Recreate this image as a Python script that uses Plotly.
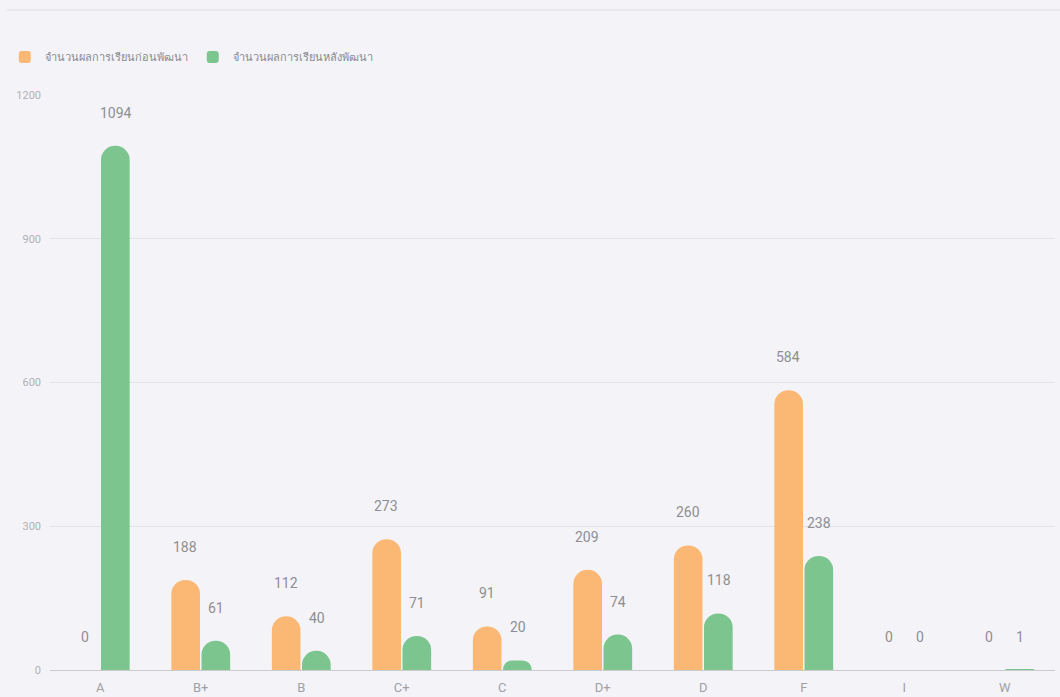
import plotly.graph_objects as go

categories = ["A", "B+", "B", "C+", "C", "D+", "D", "F", "I", "W"]
before_name = "จำนวนผลการเรียนก่อนพัฒนา"
after_name = "จำนวนผลการเรียนหลังพัฒนา"
before_values = [0, 188, 112, 273, 91, 209, 260, 584, 0, 0]
after_values = [1094, 61, 40, 71, 20, 74, 118, 238, 0, 1]
y_ticks = [0, 300, 600, 900, 1200]

ORANGE = "#FBB875"
GREEN = "#7CC58E"
BG = "#F4F4F8"
FONT = "Liberation Sans Narrow, Roboto, Noto Sans, sans-serif"

fig = go.Figure()
fig.add_trace(go.Bar(x=categories, y=before_values, name=before_name,
                     marker=dict(color=ORANGE, cornerradius="50%", line=dict(width=0))))
fig.add_trace(go.Bar(x=categories, y=after_values, name=after_name,
                     marker=dict(color=GREEN, cornerradius="50%", line=dict(width=0))))

annotations = []
for vals, shift in ((before_values, -15.5), (after_values, 15.5)):
    for c, v in zip(categories, vals):
        annotations.append(dict(x=c, y=v, xref="x", yref="y", text=str(v),
                                showarrow=False, xshift=shift, yshift=33,
                                yanchor="middle",
                                font=dict(family=FONT, size=14, color="#8E8E92")))

fig.update_layout(
    width=1060, height=697, autosize=False,
    paper_bgcolor=BG, plot_bgcolor=BG,
    margin=dict(l=48, r=5, t=95, b=27),
    barmode="group", bargap=0.4, bargroupgap=0.05,
    font=dict(family=FONT, size=12, color="#9A9AA0"),
    showlegend=True,
    legend=dict(orientation="h", x=-0.045, xanchor="left", y=1.066, yanchor="middle",
                font=dict(family=FONT, size=11, color="#8A8A90"),
                bgcolor="rgba(0,0,0,0)", itemwidth=30, traceorder="normal"),
    annotations=annotations,
    shapes=[dict(type="line", xref="paper", yref="paper", x0=-0.043, x1=1.005,
                 y0=1 + (95 - 10) / 575, y1=1 + (95 - 10) / 575,
                 line=dict(color="#DCDCE0", width=1))],
)
fig.update_xaxes(type="category", showgrid=False, showline=False, zeroline=False,
                 ticks="", ticklabelstandoff=8, automargin=False,
                 tickfont=dict(family=FONT, size=13, color="#A0A0A6"))
fig.update_yaxes(range=[0, 1200], tickvals=y_ticks, showgrid=True, gridcolor="#E3E3E8",
                 gridwidth=1, zeroline=True, zerolinecolor="#C9C9CE", zerolinewidth=1,
                 showline=False, ticks="", ticklabelstandoff=8, automargin=False,
                 tickfont=dict(family=FONT, size=11, color="#B0B0B6"))

fig.write_html("out.html", config={"displayModeBar": False},
               post_script="document.body.style.margin='0';"
                           "document.body.style.background='" + BG + "';")
